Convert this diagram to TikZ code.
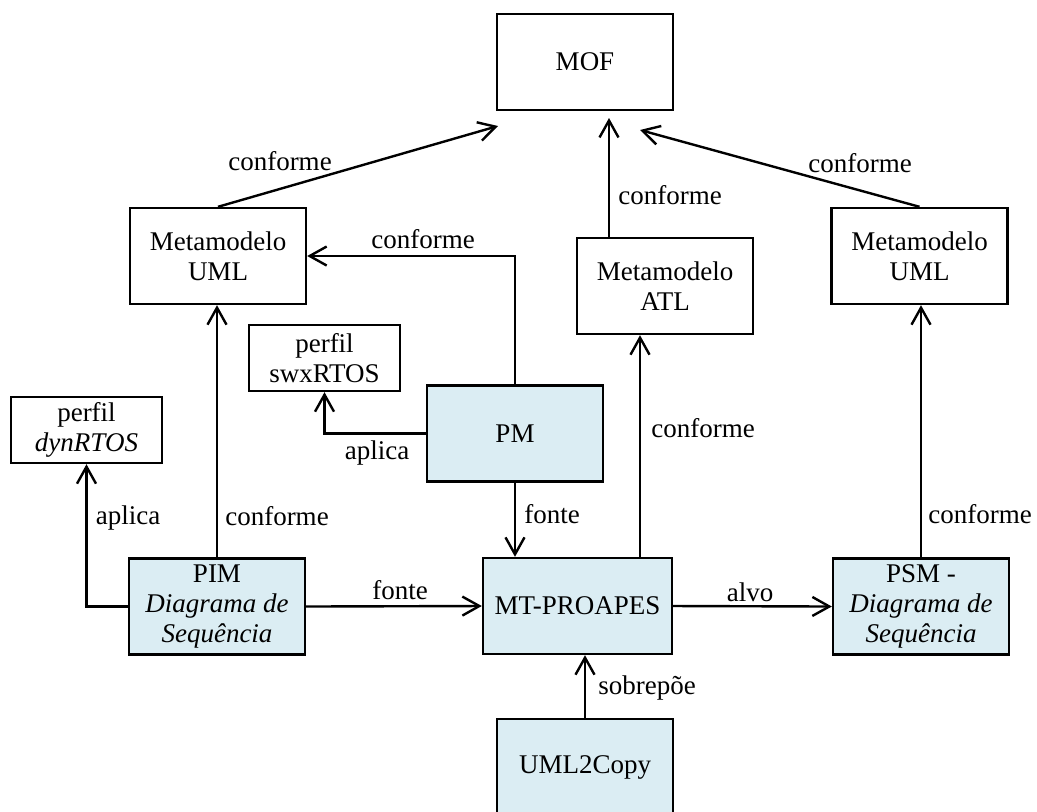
\documentclass[tikz,border=0pt]{standalone}
\usepackage{fontspec}
\setmainfont{Liberation Serif}
\usetikzlibrary{arrows.meta}

\definecolor{modelfill}{RGB}{219,237,243}

\tikzset{
  box/.style={draw, line width=1.2pt, rectangle, inner sep=0pt, align=center,
              minimum width=88pt, minimum height=48pt,
              font=\fontsize{13.5pt}{15pt}\selectfont},
  smallbox/.style={box, minimum width=75.5pt, minimum height=33pt},
  model/.style={box, fill=modelfill},
  lbl/.style={inner sep=0pt, font=\fontsize{13.5pt}{15pt}\selectfont},
  arr/.style={line width=1.2pt, -{Straight Barb[length=8.5pt,width=9.5pt]}}
}

\begin{document}
\begin{tikzpicture}[x=0.5pt, y=-0.5pt]
  \useasboundingbox (0,0) rectangle (1037,811);
  \clip (0,0) rectangle (1037,811);

  % metamodel layer
  \node[box]   (mof)  at (585,62)    {MOF};
  \node[box]   (umlL) at (218,256)   {Metamodelo\\UML};
  \node[box]   (atl)  at (665,286)   {Metamodelo\\ATL};
  \node[box]   (umlR) at (919.5,256) {Metamodelo\\UML};

  % profiles
  \node[smallbox] (swx) at (324.5,358) {perfil\\swxRTOS};
  \node[smallbox] (dyn) at (86.5,430)  {perfil\\\textit{dynRTOS}};

  % models and transformation
  \node[model] (pm)   at (515,433.5) {PM};
  \node[model] (pim)  at (217,606.5) {PIM\\\textit{Diagrama de}\\\textit{Sequência}};
  \node[model, minimum width=94.5pt] (mt) at (577.5,606) {MT-PROAPES};
  \node[model] (psm)  at (921,606.5) {PSM -\\\textit{Diagrama de}\\\textit{Sequência}};
  \node[model] (copy) at (585,767)   {UML2Copy};

  % arrow ends below MOF and shared vertical line
  \coordinate (tipL) at (498,126);
  \coordinate (tipC) at (609,118);
  \coordinate (tipR) at (640,130);
  \coordinate (xatl) at (640,0);

  % connectors
  \draw[arr] (umlL.north) -- (tipL);
  \draw[arr] (tipC |- atl.north) -- (tipC);
  \draw[arr] (umlR.north) -- (tipR);
  \draw[arr] (pm.north) |- (umlL.east);
  \draw[arr] (pm.west) -| (swx.south);
  \draw[arr] (pm.south) -- (pm.south |- mt.north);
  \draw[arr] (pim.north) -- (pim.north |- umlL.south);
  \draw[arr] (pim.west) -| (dyn.south);
  \draw[arr] (pim.east) -- (mt.west);
  \draw[arr] (mt.east) -- (psm.west);
  \draw[arr] (xatl |- mt.north) -- (xatl |- atl.south);
  \draw[arr] (psm.north) -- (psm.north |- umlR.south);
  \draw[arr] (copy.north) -- (copy.north |- mt.south);

  % connector labels
  \node[lbl] (c1) at (280,161) {conforme};
  \node[lbl] (c2) at (670,195) {conforme};
  \node[lbl] (c3) at (860,163) {conforme};
  \node[lbl] (c4) at (423,239) {conforme};
  \node[lbl] (a1) at (377,453) {aplica};
  \node[lbl] (f1) at (552,514) {fonte};
  \node[lbl] (c5) at (277,516) {conforme};
  \node[lbl] (a2) at (128,518) {aplica};
  \node[lbl] (f2) at (400,590) {fonte};
  \node[lbl] (al) at (750,592) {alvo};
  \node[lbl] (c6) at (703,428) {conforme};
  \node[lbl] (c7) at (980,514) {conforme};
  \node[lbl] (sb) at (647,688) {sobrepõe};
\end{tikzpicture}
\end{document}
